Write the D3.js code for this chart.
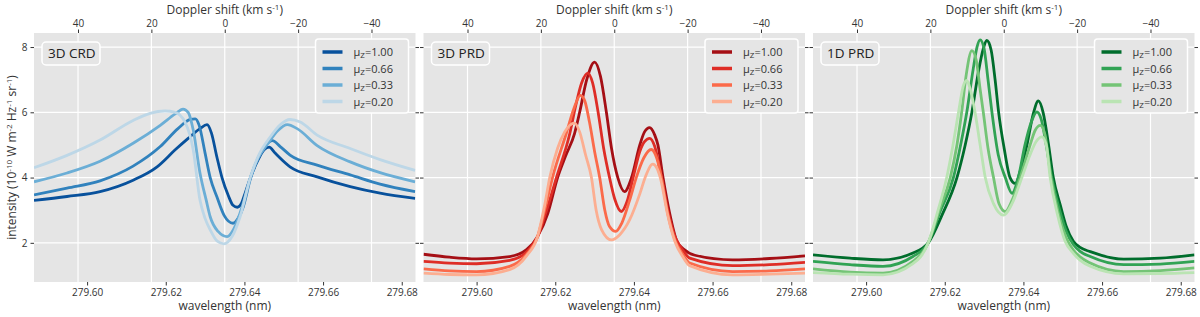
<!DOCTYPE html>
<html>
<head>
<meta charset="UTF-8">
<title>Mg II k line profiles</title>
<script src="https://cdn.jsdelivr.net/npm/d3@7"></script>
<style>
    body { margin: 0; background: #fff; }
    svg { font-family: "Open Sans", sans-serif; }
    .tick text { font-family: "Open Sans", sans-serif; font-size: 10px; fill: #333; }
    .tick line { stroke: #333; }
    .grid line { stroke: #fff; stroke-width: 1.2; }
    .axis-label { font-size: 12px; fill: #333; }
    .tag text { font-size: 13.5px; fill: #222; }
    .legend text { font-size: 11px; fill: #333; }
    .profile { fill: none; stroke-width: 2.8; stroke-linejoin: round; }
</style>
</head>
<body>
<script>
    const lambda0 = 279.635;      // rest wavelength, nm
    const cLight = 299792.458;    // km/s
    const wavelengthRange = [279.5865, 279.6835];
    const intensityRange = [0.8, 8.43];
    const wavelengthTicks = [279.60, 279.62, 279.64, 279.66, 279.68];
    const dopplerTicks = [40, 20, 0, -20, -40];
    const intensityTicks = [2, 4, 6, 8];
    const muLabels = ['1.00', '0.66', '0.33', '0.20'];
    const panelTitles = ['3D CRD', '3D PRD', '1D PRD'];

    const blues = ['#08519c', '#3182bd', '#6baed6', '#bdd7e7'];
    const reds = ['#a50f15', '#de2d26', '#fb6a4a', '#fcae91'];
    const greens = ['#006d2c', '#31a354', '#74c476', '#bae4b3'];

    // [wavelength (nm), intensity (1e-10 W m-2 Hz-1 sr-1)]
    const crd100 = [[279.5865,3.30],[279.5949,3.42],[279.6033,3.57],[279.6117,3.92],[279.6178,4.33],[279.6224,4.85],[279.6257,5.20],[279.6287,5.50],[279.6305,5.62],[279.6316,5.37],[279.6330,4.63],[279.6343,4.00],[279.6359,3.45],[279.6371,3.15],[279.6382,3.09],[279.6392,3.20],[279.6402,3.53],[279.6417,4.05],[279.6435,4.55],[279.6450,4.85],[279.6463,4.93],[279.6478,4.75],[279.6516,4.33],[279.6585,4.02],[279.6669,3.72],[279.6745,3.52],[279.6834,3.36]];
    const crd066 = [[279.5865,3.47],[279.5949,3.68],[279.6033,3.90],[279.6117,4.35],[279.6186,4.95],[279.6231,5.50],[279.6262,5.78],[279.6275,5.80],[279.6285,5.60],[279.6300,4.75],[279.6313,4.00],[279.6330,3.41],[279.6348,2.85],[279.6371,2.60],[279.6384,2.75],[279.6397,3.10],[279.6415,3.95],[279.6435,4.60],[279.6455,5.00],[279.6471,5.13],[279.6491,4.95],[279.6516,4.69],[279.6585,4.38],[279.6669,4.08],[279.6745,3.80],[279.6834,3.57]];
    const crd033 = [[279.5865,3.87],[279.5949,4.14],[279.6033,4.50],[279.6117,5.05],[279.6186,5.60],[279.6224,5.95],[279.6244,6.10],[279.6257,6.00],[279.6270,5.45],[279.6287,4.14],[279.6303,3.30],[279.6313,2.80],[279.6333,2.35],[279.6356,2.19],[279.6374,2.45],[279.6394,3.10],[279.6415,4.00],[279.6435,4.60],[279.6460,5.05],[279.6486,5.45],[279.6509,5.62],[279.6534,5.50],[279.6585,4.98],[279.6669,4.48],[279.6745,4.15],[279.6834,3.87]];
    const crd020 = [[279.5865,4.30],[279.5949,4.68],[279.6033,5.15],[279.6117,5.75],[279.6160,5.97],[279.6198,6.04],[279.6224,6.00],[279.6249,5.70],[279.6270,4.84],[279.6287,3.31],[279.6300,2.75],[279.6313,2.40],[279.6331,2.05],[279.6348,1.97],[279.6369,2.20],[279.6389,2.80],[279.6415,4.00],[279.6435,4.65],[279.6466,5.25],[279.6491,5.62],[279.6516,5.78],[279.6542,5.70],[279.6585,5.30],[279.6669,4.89],[279.6745,4.55],[279.6834,4.22]];

    const prd100 = [[279.5865,1.65],[279.5931,1.56],[279.6000,1.51],[279.6084,1.58],[279.6127,1.79],[279.6155,2.19],[279.6181,2.90],[279.6206,4.00],[279.6226,4.65],[279.6249,5.35],[279.6262,6.00],[279.6280,7.00],[279.6300,7.54],[279.6315,7.10],[279.6330,6.00],[279.6343,4.90],[279.6359,4.00],[279.6376,3.57],[279.6394,4.00],[279.6415,5.00],[279.6427,5.40],[279.6440,5.53],[279.6453,5.30],[279.6461,5.00],[279.6474,4.00],[279.6491,2.90],[279.6508,2.09],[279.6527,1.80],[279.6555,1.62],[279.6651,1.48],[279.6745,1.52],[279.6835,1.60]];
    const prd066 = [[279.5865,1.43],[279.5931,1.38],[279.6000,1.36],[279.6084,1.46],[279.6127,1.72],[279.6155,2.19],[279.6178,3.00],[279.6203,4.00],[279.6237,5.35],[279.6252,6.20],[279.6267,6.90],[279.6283,7.20],[279.6295,6.90],[279.6309,6.00],[279.6323,4.90],[279.6338,4.00],[279.6351,3.35],[279.6368,2.96],[279.6382,3.25],[279.6398,4.00],[279.6415,4.80],[279.6427,5.10],[279.6440,5.20],[279.6453,4.95],[279.6470,4.00],[279.6486,3.00],[279.6504,2.20],[279.6524,1.78],[279.6542,1.53],[279.6651,1.30],[279.6745,1.33],[279.6835,1.40]];
    const prd033 = [[279.5865,1.20],[279.5931,1.14],[279.6000,1.12],[279.6084,1.28],[279.6127,1.65],[279.6155,2.19],[279.6175,3.10],[279.6193,4.00],[279.6228,5.35],[279.6247,6.10],[279.6264,6.52],[279.6275,6.35],[279.6287,5.70],[279.6300,4.80],[279.6313,4.00],[279.6326,3.00],[279.6338,2.50],[279.6354,2.35],[279.6369,2.60],[279.6389,3.30],[279.6406,4.00],[279.6425,4.60],[279.6444,4.86],[279.6458,4.60],[279.6470,4.00],[279.6486,2.90],[279.6504,2.10],[279.6524,1.65],[279.6542,1.38],[279.6651,1.12],[279.6745,1.14],[279.6835,1.20]];
    const prd020 = [[279.5865,1.07],[279.5931,1.03],[279.6000,1.02],[279.6084,1.18],[279.6127,1.60],[279.6155,2.19],[279.6173,3.15],[279.6186,4.00],[279.6206,4.90],[279.6224,5.40],[279.6249,5.67],[279.6262,5.40],[279.6277,4.70],[279.6292,4.00],[279.6304,3.00],[279.6318,2.40],[279.6343,2.09],[279.6364,2.25],[279.6389,2.70],[279.6415,3.50],[279.6430,4.05],[279.6448,4.41],[279.6458,4.30],[279.6467,4.00],[279.6486,2.85],[279.6504,2.05],[279.6524,1.58],[279.6542,1.30],[279.6651,1.02],[279.6745,1.04],[279.6835,1.07]];

    const prd1d100 = [[279.5865,1.63],[279.5959,1.53],[279.6043,1.48],[279.6119,1.69],[279.6158,2.00],[279.6193,2.85],[279.6231,4.00],[279.6252,5.00],[279.6269,6.00],[279.6285,7.20],[279.6298,7.95],[279.6307,8.20],[279.6318,7.90],[279.6328,7.00],[279.6337,6.00],[279.6351,4.90],[279.6366,4.00],[279.6379,3.82],[279.6392,4.20],[279.6409,5.00],[279.6425,5.95],[279.6438,6.35],[279.6450,6.00],[279.6464,5.00],[279.6476,4.00],[279.6494,3.15],[279.6509,2.50],[279.6527,2.05],[279.6544,1.86],[279.6570,1.73],[279.6655,1.50],[279.6748,1.53],[279.6835,1.63]];
    const prd1d066 = [[279.5865,1.43],[279.5959,1.33],[279.6043,1.28],[279.6119,1.58],[279.6158,2.00],[279.6188,2.95],[279.6222,4.00],[279.6242,5.10],[279.6256,6.00],[279.6272,7.30],[279.6282,8.00],[279.6290,8.22],[279.6300,7.95],[279.6310,7.00],[279.6320,6.00],[279.6336,4.70],[279.6354,4.00],[279.6371,3.52],[279.6387,4.00],[279.6404,5.00],[279.6420,5.70],[279.6434,6.01],[279.6445,5.80],[279.6458,5.00],[279.6472,4.00],[279.6491,3.05],[279.6509,2.35],[279.6527,1.95],[279.6544,1.74],[279.6570,1.58],[279.6655,1.33],[279.6748,1.35],[279.6835,1.43]];
    const prd1d033 = [[279.5865,1.20],[279.5959,1.10],[279.6043,1.07],[279.6119,1.43],[279.6158,2.00],[279.6186,3.00],[279.6214,4.00],[279.6231,5.00],[279.6243,6.00],[279.6254,7.10],[279.6269,7.89],[279.6280,7.60],[279.6290,6.70],[279.6298,6.00],[279.6310,4.90],[279.6324,4.00],[279.6338,3.20],[279.6354,2.96],[279.6371,3.30],[279.6392,4.00],[279.6417,5.00],[279.6430,5.45],[279.6443,5.60],[279.6455,5.30],[279.6470,4.00],[279.6488,2.95],[279.6509,2.15],[279.6527,1.78],[279.6544,1.57],[279.6570,1.38],[279.6655,1.12],[279.6748,1.15],[279.6835,1.23]];
    const prd1d020 = [[279.5865,1.09],[279.5959,1.04],[279.6043,1.02],[279.6119,1.36],[279.6158,2.00],[279.6183,3.00],[279.6205,4.00],[279.6221,5.00],[279.6235,6.00],[279.6247,6.80],[279.6256,6.98],[279.6265,6.70],[279.6277,6.00],[279.6290,5.00],[279.6303,4.00],[279.6324,3.20],[279.6349,2.85],[279.6371,3.20],[279.6396,4.00],[279.6417,4.70],[279.6432,5.10],[279.6447,5.25],[279.6458,5.00],[279.6468,4.00],[279.6486,2.90],[279.6506,2.05],[279.6527,1.68],[279.6544,1.47],[279.6570,1.28],[279.6655,1.05],[279.6748,1.06],[279.6835,1.09]];

    const panels = [
        { title: panelTitles[0], series: [crd100, crd066, crd033, crd020], colors: blues },
        { title: panelTitles[1], series: [prd100, prd066, prd033, prd020], colors: reds },
        { title: panelTitles[2], series: [prd1d100, prd1d066, prd1d033, prd1d020], colors: greens }
    ];

    const width = 1200;
    const height = 317;
    const marginTop = 33;
    const marginLeft = 34;
    const panelWidth = 381.5;
    const panelGap = 8;
    const plotHeight = 249;

    const svg = d3.select('body')
        .append('svg')
        .attr('width', width)
        .attr('height', height);

    const toDoppler = l => cLight * (lambda0 - l) / lambda0;

    const x = d3.scaleLinear().domain(wavelengthRange).range([0, panelWidth]);
    const v = d3.scaleLinear().domain(wavelengthRange.map(toDoppler)).range([0, panelWidth]);
    const y = d3.scaleLinear().domain(intensityRange).range([plotHeight, 0]);

    const line = d3.line()
        .x(d => x(d[0]))
        .y(d => y(d[1]))
        .curve(d3.curveMonotoneX);

    function superscripted(text, parts) {
        // parts: [[string, isSuper], ...]
        let up = false;
        parts.forEach(([s, sup]) => {
            const t = text.append('tspan').text(s);
            if (sup && !up) { t.attr('dy', -4.5).attr('font-size', '8px'); up = true; }
            else if (sup) { t.attr('font-size', '8px'); }
            else if (up) { t.attr('dy', 4.5); up = false; }
        });
    }

    panels.forEach((p, i) => {
        const g = svg.append('g')
            .attr('transform', `translate(${marginLeft + i * (panelWidth + panelGap)}, ${marginTop})`);

        g.append('rect')
            .attr('width', panelWidth)
            .attr('height', plotHeight)
            .attr('fill', '#e5e5e5');

        g.append('g').attr('class', 'grid')
            .selectAll('line').data(dopplerTicks).join('line')
            .attr('x1', d => v(d)).attr('x2', d => v(d))
            .attr('y1', 0).attr('y2', plotHeight);

        g.append('g').attr('class', 'grid')
            .selectAll('line').data(intensityTicks).join('line')
            .attr('x1', 0).attr('x2', panelWidth)
            .attr('y1', d => y(d)).attr('y2', d => y(d));

        const clipId = `clip${i}`;
        g.append('clipPath').attr('id', clipId)
            .append('rect').attr('width', panelWidth).attr('height', plotHeight);

        g.append('g').attr('clip-path', `url(#${clipId})`)
            .selectAll('path').data(p.series).join('path')
            .attr('class', 'profile')
            .attr('d', line)
            .attr('stroke', (d, j) => p.colors[j]);

        // panel tag
        const tag = g.append('g').attr('class', 'tag').attr('transform', 'translate(8, 9)');
        tag.append('rect')
            .attr('width', 58).attr('height', 23).attr('rx', 4)
            .attr('fill', '#e5e5e5').attr('stroke', '#fff').attr('stroke-width', 1.5);
        tag.append('text').attr('x', 6).attr('y', 15.5).text(p.title);

        // legend
        const lg = g.append('g').attr('class', 'legend')
            .attr('transform', `translate(${panelWidth - 100}, 6)`);
        lg.append('rect')
            .attr('width', 93).attr('height', 74).attr('rx', 3)
            .attr('fill', '#e5e5e5').attr('stroke', '#fff').attr('stroke-width', 1.5);
        muLabels.forEach((m, j) => {
            const ry = 13 + j * 16.5;
            lg.append('line')
                .attr('x1', 7).attr('x2', 27).attr('y1', ry).attr('y2', ry)
                .attr('stroke', p.colors[j]).attr('stroke-width', 3.5);
            const t = lg.append('text').attr('x', 38).attr('y', ry + 4);
            t.append('tspan').text('μ');
            t.append('tspan').attr('font-size', '8px').attr('dy', 2).text('Z');
            t.append('tspan').attr('dy', -2).text('=' + m);
        });

        // axes
        g.append('g')
            .call(d3.axisTop(v).tickValues(dopplerTicks).tickSize(3.5).tickPadding(2.5).tickFormat(d3.format('d')))
            .call(a => a.select('.domain').remove());

        g.append('g')
            .attr('transform', `translate(0, ${plotHeight})`)
            .call(d3.axisBottom(x).tickValues(wavelengthTicks).tickSize(3.5).tickPadding(3).tickFormat(d3.format('.2f')))
            .call(a => a.select('.domain').remove());

        g.append('g')
            .call(d3.axisLeft(y).tickValues(intensityTicks).tickSize(3.5).tickPadding(3)
                .tickFormat(i === 0 ? d3.format('d') : ''))
            .call(a => a.select('.domain').remove());

        g.append('g')
            .attr('transform', `translate(${panelWidth}, 0)`)
            .call(d3.axisRight(y).tickValues(intensityTicks).tickSize(3.5).tickFormat(''))
            .call(a => a.select('.domain').remove());

        const top = g.append('text')
            .attr('class', 'axis-label')
            .attr('x', panelWidth / 2)
            .attr('y', 14 - marginTop)
            .attr('text-anchor', 'middle');
        superscripted(top, [['Doppler shift (km s', false], ['-1', true], [')', false]]);

        g.append('text')
            .attr('class', 'axis-label')
            .attr('x', panelWidth / 2)
            .attr('y', plotHeight + 28)
            .attr('text-anchor', 'middle')
            .text('wavelength (nm)');
    });

    const yLabel = svg.append('text')
        .attr('class', 'axis-label')
        .attr('text-anchor', 'middle')
        .attr('transform', `translate(16, ${marginTop + plotHeight / 2}) rotate(-90)`);
    superscripted(yLabel, [
        ['intensity (10', false], ['-10', true], [' W m', false], ['-2', true],
        [' Hz', false], ['-1', true], [' sr', false], ['-1', true], [')', false]
    ]);
</script>
</body>
</html>
